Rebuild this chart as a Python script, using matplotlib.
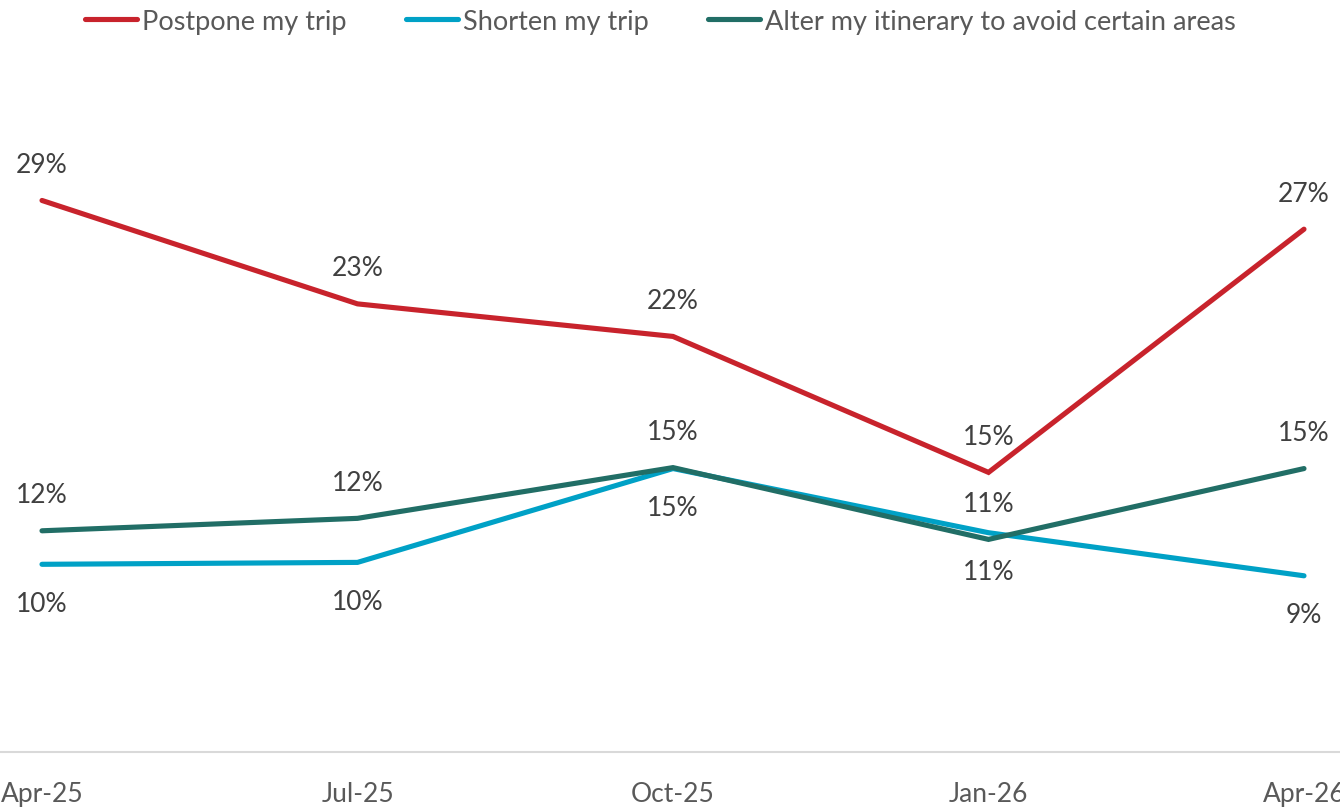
import matplotlib
matplotlib.use("Agg")
import matplotlib.pyplot as plt

plt.rcParams['font.family'] = ['Lato', 'DejaVu Sans']

quarters = ["Apr-25", "Jul-25", "Oct-25", "Jan-26", "Apr-26"]
postpone = [28.8, 23.4, 21.7, 14.6, 27.3]
shorten = [9.8, 9.9, 14.8, 11.45, 9.2]
alter = [11.55, 12.2, 14.85, 11.1, 14.8]

RED = "#C8232C"
CYAN = "#00A1C6"
TEAL = "#216E66"
LABEL = "#404040"
AXIS_TXT = "#595959"

fig = plt.figure(figsize=(13.4, 8.12), dpi=100)
ax = fig.add_axes([0, 0.0727, 1, 0.8254])

x = list(range(len(quarters)))
series = [
    (postpone, RED, "Postpone my trip", 26),
    (shorten, CYAN, "Shorten my trip", -28),
    (alter, TEAL, "Alter my itinerary to avoid certain areas", 26),
]
for vals, col, name, off in series:
    ax.plot(x, vals, color=col, lw=3.7, solid_capstyle='round',
            solid_joinstyle='miter', label=name)

# data labels: red and teal above the line, cyan below
for vals, col, name, off in series:
    for xi, v in zip(x, vals):
        ax.annotate(f"{round(v):.0f}%", (xi, v), xytext=(0, off),
                    textcoords='offset points', ha='center', va='center',
                    fontsize=19, color=LABEL)

ax.set_xlim(-42 / 315.5, (1340 - 42) / 315.5)
ax.set_ylim(0, 35)
ax.set_xticks(x)
ax.set_xticklabels(quarters, fontsize=19, color=AXIS_TXT)
ax.tick_params(axis='x', length=0, pad=21)
ax.set_yticks([])
for s in ['top', 'left', 'right']:
    ax.spines[s].set_visible(False)
ax.spines['bottom'].set_color('#D9D9D9')
ax.spines['bottom'].set_linewidth(1.5)

leg = fig.legend(loc='upper center', bbox_to_anchor=(0.493, 1.018), ncol=3,
                 frameon=False, fontsize=19.5, handlelength=1.9,
                 handletextpad=0.2, columnspacing=2.2)
for t in leg.get_texts():
    t.set_color(AXIS_TXT)

fig.savefig("out.png", dpi=100)
